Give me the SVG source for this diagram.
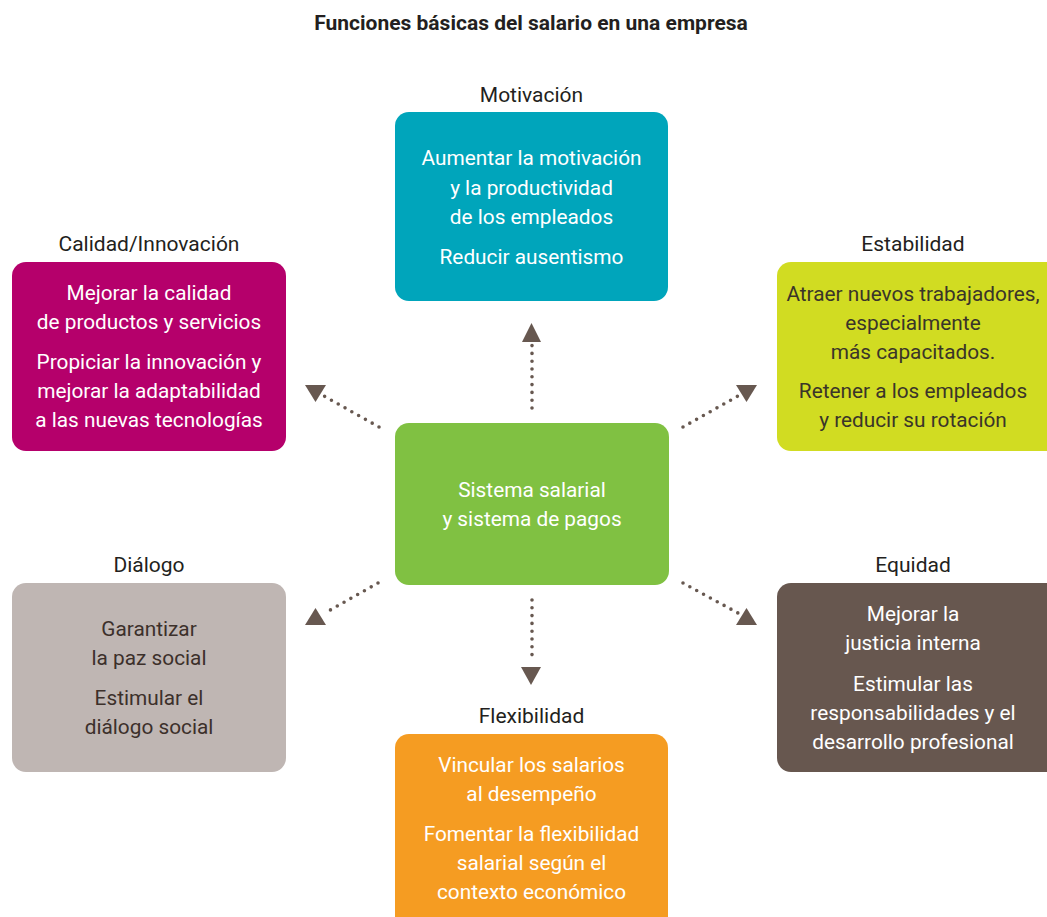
<svg xmlns="http://www.w3.org/2000/svg" width="1047" height="917" viewBox="0 0 1047 917">
<style>
text{font-family:Roboto,"Liberation Sans",sans-serif;text-anchor:middle}
.title{font-size:21px;font-weight:bold;fill:#231f20}
.lbl{font-size:21px;fill:#231f20}
.t{font-size:20.8px;fill:#ffffff}
.d{font-size:20.8px;fill:#3a3529}
.dot{fill:none;stroke:#675850;stroke-width:3.6;stroke-linecap:round;stroke-dasharray:0 7.8}
.ah{fill:#675850}
</style>
<rect width="1047" height="917" fill="#ffffff"/>
<text class="title" x="531" y="30">Funciones básicas del salario en una empresa</text>

<g id="motivacion">
<text class="lbl" x="531.5" y="102">Motivación</text>
<rect x="395" y="112" width="273" height="189" rx="14" fill="#00a5bb"/>
<text class="t" x="531.5" y="165">Aumentar la motivación</text>
<text class="t" x="531.5" y="195">y la productividad</text>
<text class="t" x="531.5" y="224">de los empleados</text>
<text class="t" x="531.5" y="264">Reducir ausentismo</text>
</g>

<g id="calidad">
<text class="lbl" x="149" y="251">Calidad/Innovación</text>
<rect x="12" y="262" width="274" height="189" rx="14" fill="#b5006b"/>
<text class="t" x="149" y="300">Mejorar la calidad</text>
<text class="t" x="149" y="329">de productos y servicios</text>
<text class="t" x="149" y="369">Propiciar la innovación y</text>
<text class="t" x="149" y="398">mejorar la adaptabilidad</text>
<text class="t" x="149" y="427">a las nuevas tecnologías</text>
</g>

<g id="estabilidad">
<text class="lbl" x="913" y="251">Estabilidad</text>
<rect x="777" y="262" width="284" height="189" rx="14" fill="#d1dc22"/>
<text class="d" x="913" y="301">Atraer nuevos trabajadores,</text>
<text class="d" x="913" y="330">especialmente</text>
<text class="d" x="913" y="359">más capacitados.</text>
<text class="d" x="913" y="398">Retener a los empleados</text>
<text class="d" x="913" y="427">y reducir su rotación</text>
</g>

<g id="centro">
<rect x="395" y="423" width="274" height="162" rx="14" fill="#80c142"/>
<text class="t" x="532" y="497">Sistema salarial</text>
<text class="t" x="532" y="526">y sistema de pagos</text>
</g>

<g id="dialogo">
<text class="lbl" x="149" y="572">Diálogo</text>
<rect x="12" y="583" width="274" height="189" rx="14" fill="#bfb6b3"/>
<text class="d" x="149" y="636" style="fill:#3c302b">Garantizar</text>
<text class="d" x="149" y="665" style="fill:#3c302b">la paz social</text>
<text class="d" x="149" y="705" style="fill:#3c302b">Estimular el</text>
<text class="d" x="149" y="734" style="fill:#3c302b">diálogo social</text>
</g>

<g id="equidad">
<text class="lbl" x="913" y="572">Equidad</text>
<rect x="777" y="583" width="284" height="189" rx="14" fill="#67574f"/>
<text class="t" x="913" y="621">Mejorar la</text>
<text class="t" x="913" y="650">justicia interna</text>
<text class="t" x="913" y="691">Estimular las</text>
<text class="t" x="913" y="720">responsabilidades y el</text>
<text class="t" x="913" y="749">desarrollo profesional</text>
</g>

<g id="flexibilidad">
<text class="lbl" x="531.5" y="723">Flexibilidad</text>
<rect x="395" y="734" width="273" height="200" rx="14" fill="#f59c22"/>
<text class="t" x="531.5" y="772">Vincular los salarios</text>
<text class="t" x="531.5" y="801">al desempeño</text>
<text class="t" x="531.5" y="841">Fomentar la flexibilidad</text>
<text class="t" x="531.5" y="870">salarial según el</text>
<text class="t" x="531.5" y="899">contexto económico</text>
</g>

<g id="connectors">
<line class="dot" x1="532" y1="408" x2="532" y2="345"/>
<polygon class="ah" points="522,342 541,342 531.5,323"/>
<line class="dot" x1="379" y1="427" x2="324" y2="396"/>
<polygon class="ah" points="305,385 326,385 315.5,402"/>
<line class="dot" x1="683" y1="427" x2="738" y2="396"/>
<polygon class="ah" points="736,385 757,385 746.5,402"/>
<line class="dot" x1="378" y1="583" x2="325" y2="613"/>
<polygon class="ah" points="305,625 326,625 315.5,608"/>
<line class="dot" x1="683" y1="583" x2="738" y2="613"/>
<polygon class="ah" points="736,625 757,625 746.5,608"/>
<line class="dot" x1="532" y1="600" x2="532" y2="662"/>
<polygon class="ah" points="521,667 541,667 531,685"/>
</g>
</svg>
